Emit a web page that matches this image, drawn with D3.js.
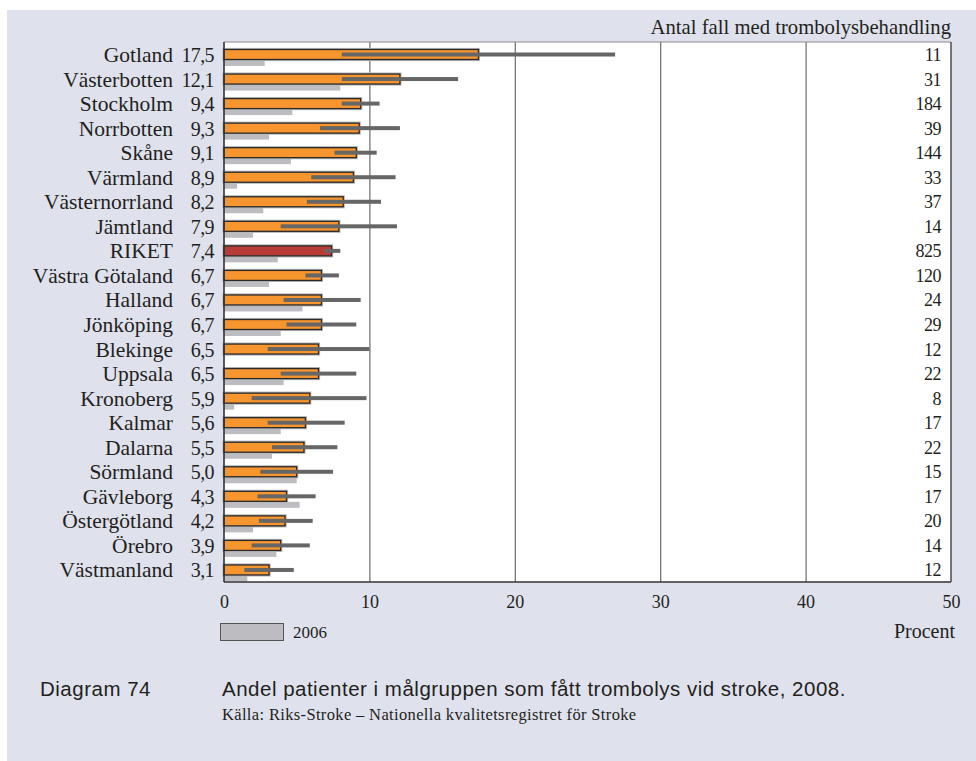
<!DOCTYPE html>
<html>
<head>
<meta charset="utf-8">
<script src="https://cdn.jsdelivr.net/npm/d3@7"></script>
<style>
  html, body { margin: 0; padding: 0; background: #ffffff; }
  svg { display: block; }
</style>
</head>
<body>
<svg id="chart" width="976" height="761"></svg>
<script>
const regions = ["Gotland","Västerbotten","Stockholm","Norrbotten","Skåne","Värmland","Västernorrland","Jämtland","RIKET","Västra Götaland","Halland","Jönköping","Blekinge","Uppsala","Kronoberg","Kalmar","Dalarna","Sörmland","Gävleborg","Östergötland","Örebro","Västmanland"];
const values2008 = [17.5,12.1,9.4,9.3,9.1,8.9,8.2,7.9,7.4,6.7,6.7,6.7,6.5,6.5,5.9,5.6,5.5,5.0,4.3,4.2,3.9,3.1];
const values2006 = [2.8,8.0,4.7,3.1,4.6,0.9,2.7,2.0,3.7,3.1,5.4,3.9,null,4.1,0.7,3.9,3.3,5.0,5.2,2.0,3.6,1.6];
const ciLow = [8.1,8.1,8.1,6.6,7.6,6.0,5.7,3.9,6.9,5.6,4.1,4.3,3.0,3.9,1.9,3.0,3.3,2.5,2.3,2.4,1.9,1.4];
const ciHigh = [26.9,16.1,10.7,12.1,10.5,11.8,10.8,11.9,8.0,7.9,9.4,9.1,10.0,9.1,9.8,8.3,7.8,7.5,6.3,6.1,5.9,4.8];
const counts = [11,31,184,39,144,33,37,14,825,120,24,29,12,22,8,17,22,15,17,20,14,12];
const xTicks = [0,10,20,30,40,50];
const highlight = "RIKET";

const svg = d3.select("#chart");
const serif = "'Liberation Serif', 'Times New Roman', serif";
const sans = "'Liberation Sans', Arial, sans-serif";
const ink = "#231f20";

// panel background
svg.append("rect").attr("x", 7).attr("y", 10).attr("width", 969).attr("height", 751).attr("fill", "#dfe2ed");

const x = d3.scaleLinear().domain([0, 50]).range([224, 951]);
const y = d3.scaleBand().domain(regions).range([42, 582]).padding(0);

// plot area
svg.append("rect").attr("x", x(0)).attr("y", 42).attr("width", x(50) - x(0)).attr("height", 540)
  .attr("fill", "#ffffff");

// gridlines
const grid = svg.append("g").attr("transform", "translate(0,582)")
  .call(d3.axisBottom(x).tickValues(xTicks.slice(1, -1)).tickSize(-540).tickFormat(""));
grid.select(".domain").remove();
grid.selectAll("line").attr("stroke", "#6a6a6a").attr("stroke-width", 1.2);

// frame
svg.append("line").attr("x1", x(0)).attr("x2", x(50)).attr("y1", 42).attr("y2", 42).attr("stroke", "#8a8a8a").attr("stroke-width", 1);
svg.append("line").attr("x1", x(50)).attr("x2", x(50)).attr("y1", 42).attr("y2", 582).attr("stroke", "#333").attr("stroke-width", 1.3);

const rows = svg.append("g");
regions.forEach((r, i) => {
  const top = y(r);
  if (values2006[i] != null) {
    rows.append("rect").attr("x", x(0)).attr("y", top + 18).attr("width", x(values2006[i]) - x(0)).attr("height", 6)
      .attr("fill", "#bdbdc1");
  }
  rows.append("rect").attr("x", x(0)).attr("y", top + 7.5).attr("width", x(values2008[i]) - x(0)).attr("height", 10)
    .attr("fill", "none").attr("stroke", "#b8b8b8").attr("stroke-width", 3.2);
  rows.append("rect").attr("x", x(0)).attr("y", top + 7.5).attr("width", x(values2008[i]) - x(0)).attr("height", 10)
    .attr("fill", r === highlight ? "#b83c35" : "#f7952f").attr("stroke", "#2a2a2a").attr("stroke-width", 1.3);
  rows.append("rect").attr("x", x(ciLow[i])).attr("y", top + 10.5).attr("width", x(ciHigh[i]) - x(ciLow[i])).attr("height", 4)
    .attr("fill", "#666666");
  rows.append("text").attr("x", 173).attr("y", top + 20).attr("text-anchor", "end")
    .attr("font-family", serif).attr("font-size", 21.5).attr("fill", ink).text(r);
  rows.append("text").attr("x", 214).attr("y", top + 20).attr("text-anchor", "end")
    .attr("font-family", serif).attr("font-size", 20).attr("letter-spacing", -0.6).attr("fill", ink)
    .text(d3.format(".1f")(values2008[i]).replace(".", ","));
  rows.append("text").attr("x", 941).attr("y", top + 19).attr("text-anchor", "end")
    .attr("font-family", serif).attr("font-size", 18).attr("letter-spacing", -0.5).attr("fill", ink).text(counts[i]);
});

// left and bottom axis lines
svg.append("line").attr("x1", x(0)).attr("x2", x(0)).attr("y1", 42).attr("y2", 582).attr("stroke", "#333").attr("stroke-width", 1.6);
svg.append("line").attr("x1", x(0)).attr("x2", x(50)).attr("y1", 582).attr("y2", 582).attr("stroke", "#333").attr("stroke-width", 1.6);

// x axis labels
const xAxis = svg.append("g").attr("transform", "translate(0,582)")
  .call(d3.axisBottom(x).tickValues(xTicks).tickSize(0).tickPadding(0).tickFormat(d3.format("d")));
xAxis.select(".domain").remove();
xAxis.selectAll("text").attr("font-family", serif).attr("font-size", 18).attr("fill", ink)
  .attr("dy", null).attr("y", 26);

// header
svg.append("text").attr("x", 951).attr("y", 34).attr("text-anchor", "end")
  .attr("font-family", serif).attr("font-size", 20.7).attr("fill", ink).text("Antal fall med trombolysbehandling");

// legend
svg.append("rect").attr("x", 220.5).attr("y", 623.5).attr("width", 63).attr("height", 17)
  .attr("fill", "#bdbdc1").attr("stroke", "#555").attr("stroke-width", 1);
svg.append("text").attr("x", 293).attr("y", 638).attr("font-family", serif).attr("font-size", 17).attr("fill", ink).text("2006");
svg.append("text").attr("x", 955).attr("y", 638).attr("text-anchor", "end")
  .attr("font-family", serif).attr("font-size", 20).attr("fill", ink).text("Procent");

// caption
svg.append("text").attr("x", 40).attr("y", 696).attr("font-family", sans).attr("font-size", 20.5)
  .attr("letter-spacing", 0.5).attr("fill", ink).text("Diagram 74");
svg.append("text").attr("x", 222).attr("y", 696).attr("font-family", sans).attr("font-size", 20.5)
  .attr("letter-spacing", 0.5).attr("fill", ink)
  .text("Andel patienter i målgruppen som fått trombolys vid stroke, 2008.");
svg.append("text").attr("x", 222).attr("y", 720).attr("font-family", serif).attr("font-size", 16.5)
  .attr("letter-spacing", 0.35).attr("fill", ink)
  .text("Källa: Riks-Stroke – Nationella kvalitetsregistret för Stroke");
</script>
</body>
</html>
